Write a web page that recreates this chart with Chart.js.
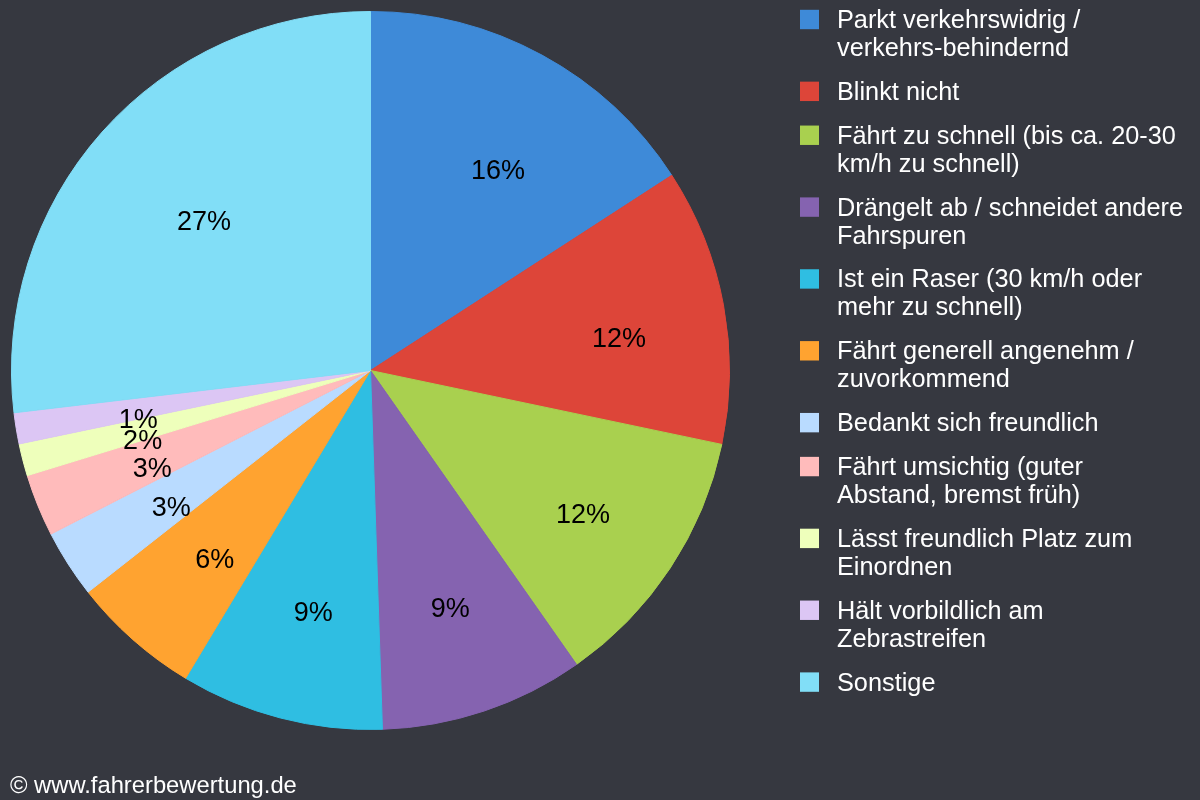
<!DOCTYPE html>
<html>
<head>
<meta charset="utf-8">
<style>
  html, body { margin: 0; padding: 0; background: #363840; }
  canvas { display: block; }
</style>
<script src="https://cdn.jsdelivr.net/npm/chart.js@4"></script>
</head>
<body>
<canvas id="chart" width="1200" height="800"></canvas>
<script>
const categories = [
  ['Parkt verkehrswidrig /', 'verkehrs-behindernd'],
  ['Blinkt nicht'],
  ['Fährt zu schnell (bis ca. 20-30', 'km/h zu schnell)'],
  ['Drängelt ab / schneidet andere', 'Fahrspuren'],
  ['Ist ein Raser (30 km/h oder', 'mehr zu schnell)'],
  ['Fährt generell angenehm /', 'zuvorkommend'],
  ['Bedankt sich freundlich'],
  ['Fährt umsichtig (guter', 'Abstand, bremst früh)'],
  ['Lässt freundlich Platz zum', 'Einordnen'],
  ['Hält vorbildlich am', 'Zebrastreifen'],
  ['Sonstige']
];
const values = [15.85, 12.45, 11.97, 9.2, 9.14, 5.8, 3.06, 2.8, 1.45, 1.4, 26.88];
const percentLabels = ['16%', '12%', '12%', '9%', '9%', '6%', '3%', '3%', '2%', '1%', '27%'];
const colors = ['#3e8ad8', '#dd4539', '#a9d04f', '#8563b0', '#2fbee2', '#ffa330',
  '#b9dbff', '#ffbbbb', '#eeffbb', '#dcc6f4', '#81def7'];
const copyright = '© www.fahrerbewertung.de';

const fontFamily = '"Liberation Sans", Arial, sans-serif';

// the original places its percent labels unevenly, so each one gets a small nudge
const labelNudge = [[6.5, 5], [5, 5], [5, 3.5], [-2.5, 1], [-2, 0], [-1, 0], [-1, -1], [0.5, 0], [1, 2], [1, 2], [9, 4.5]];

const sliceLabels = {
  id: 'sliceLabels',
  afterDatasetsDraw(chart) {
    const ctx = chart.ctx;
    ctx.save();
    ctx.font = '27px ' + fontFamily;
    ctx.fillStyle = '#000';
    ctx.textAlign = 'center';
    ctx.textBaseline = 'middle';
    chart.getDatasetMeta(0).data.forEach((arc, i) => {
      const mid = (arc.startAngle + arc.endAngle) / 2;
      const x = arc.x + 5.5 + Math.cos(mid) * 242 + labelNudge[i][0];
      const y = arc.y + 8.5 + Math.sin(mid) * 242 + labelNudge[i][1];
      ctx.fillText(percentLabels[i], x, y);
    });
    ctx.restore();
  }
};

// legend drawn by hand, the box has to line up with the first text line
const sideLegend = {
  id: 'sideLegend',
  afterDraw(chart) {
    const ctx = chart.ctx;
    ctx.save();
    ctx.font = '25.3px ' + fontFamily;
    ctx.textAlign = 'left';
    ctx.textBaseline = 'alphabetic';
    let y = 28;
    categories.forEach((lines, i) => {
      ctx.fillStyle = colors[i];
      ctx.fillRect(800, y - 18.2, 19, 19.4);
      ctx.fillStyle = '#fff';
      lines.forEach(line => {
        ctx.fillText(line, 837, y);
        y += 27.95;
      });
      y += 15.95;
    });
    ctx.font = '23.75px ' + fontFamily;
    ctx.fillStyle = '#fff';
    ctx.fillText(copyright, 10, 793);
    ctx.restore();
  }
};

new Chart(document.getElementById('chart'), {
  type: 'pie',
  data: {
    labels: categories.map(lines => lines.join(' ')),
    datasets: [{
      data: values,
      backgroundColor: colors,
      borderColor: colors,
      borderWidth: 1
    }]
  },
  options: {
    responsive: false,
    animation: false,
    layout: { padding: { left: 11, top: 11, right: 470, bottom: 70 } },
    plugins: {
      legend: { display: false },
      tooltip: { enabled: false }
    }
  },
  plugins: [sliceLabels, sideLegend]
});
</script>
</body>
</html>
